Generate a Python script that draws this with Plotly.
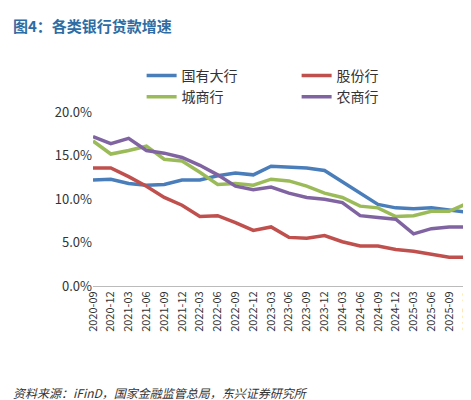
import plotly.graph_objects as go

categories = ["2020-09","2020-12","2021-03","2021-06","2021-09","2021-12","2022-03","2022-06","2022-09","2022-12",
              "2023-03","2023-06","2023-09","2023-12","2024-03","2024-06","2024-09","2024-12","2025-03","2025-06","2025-09","2025-12"]
big = [12.2,12.3,11.8,11.6,11.7,12.2,12.2,12.7,13.0,12.8,13.8,13.7,13.6,13.3,12.0,10.6,9.4,9.0,8.9,9.0,8.8,8.5]
joint = [13.6,13.6,12.6,11.5,10.2,9.3,8.0,8.1,7.3,6.4,6.8,5.6,5.5,5.8,5.1,4.6,4.6,4.2,4.0,3.6,3.3,3.3]
city = [16.7,15.2,15.6,16.1,14.6,14.4,13.1,11.7,11.8,11.6,12.3,12.1,11.5,10.7,10.2,9.2,9.0,8.0,8.1,8.6,8.6,9.5]
rural = [17.2,16.4,17.0,15.6,15.3,14.8,13.9,12.8,11.5,11.1,11.4,10.7,10.2,10.0,9.6,8.1,7.9,7.7,6.0,6.6,6.8,6.8]

series = [("国有大行", big, "#4a7ebb"), ("股份行", joint, "#c0504d"),
          ("城商行", city, "#9bbb59"), ("农商行", rural, "#8064a2")]

fig = go.Figure()
for name, vals, col in series:
    fig.add_trace(go.Scatter(x=categories, y=[v/100 for v in vals], name=name, mode="lines",
                             line=dict(color=col, width=3.5)))

fig.update_layout(
    width=471, height=400, plot_bgcolor="white", paper_bgcolor="white",
    font=dict(family="Noto Sans CJK SC", size=12, color="#333"),
    margin=dict(l=85, r=12, t=100, b=122, autoexpand=False),
    legend=dict(orientation="h", x=0.13, xanchor="left", y=1.27, yanchor="top",
                font=dict(size=14), traceorder="normal", entrywidth=110, bgcolor="rgba(0,0,0,0)"),
    xaxis=dict(tickangle=-90, showgrid=False, showline=True, linecolor="#bbb", ticks="",
               tickfont=dict(size=11), type="category", automargin=False),
    yaxis=dict(range=[0, 0.205], tickvals=[0,0.05,0.10,0.15,0.20], tickformat=".1%",
               showgrid=False, tickfont=dict(size=13), automargin=False),
    annotations=[
        dict(text="<b>图4：各类银行贷款增速</b>", xref="paper", yref="paper", x=0, y=1.0, xanchor="left",
             yanchor="top", showarrow=False, font=dict(size=15, color="#2e6da4"), xshift=-82, yshift=95),
        dict(text="<i>资料来源：iFinD，国家金融监管总局，东兴证券研究所</i>", xref="paper", yref="paper",
             x=0, y=0, xanchor="left", yanchor="top", showarrow=False, font=dict(size=12),
             xshift=-82, yshift=-96),
    ],
)
fig.write_html("out.html")
